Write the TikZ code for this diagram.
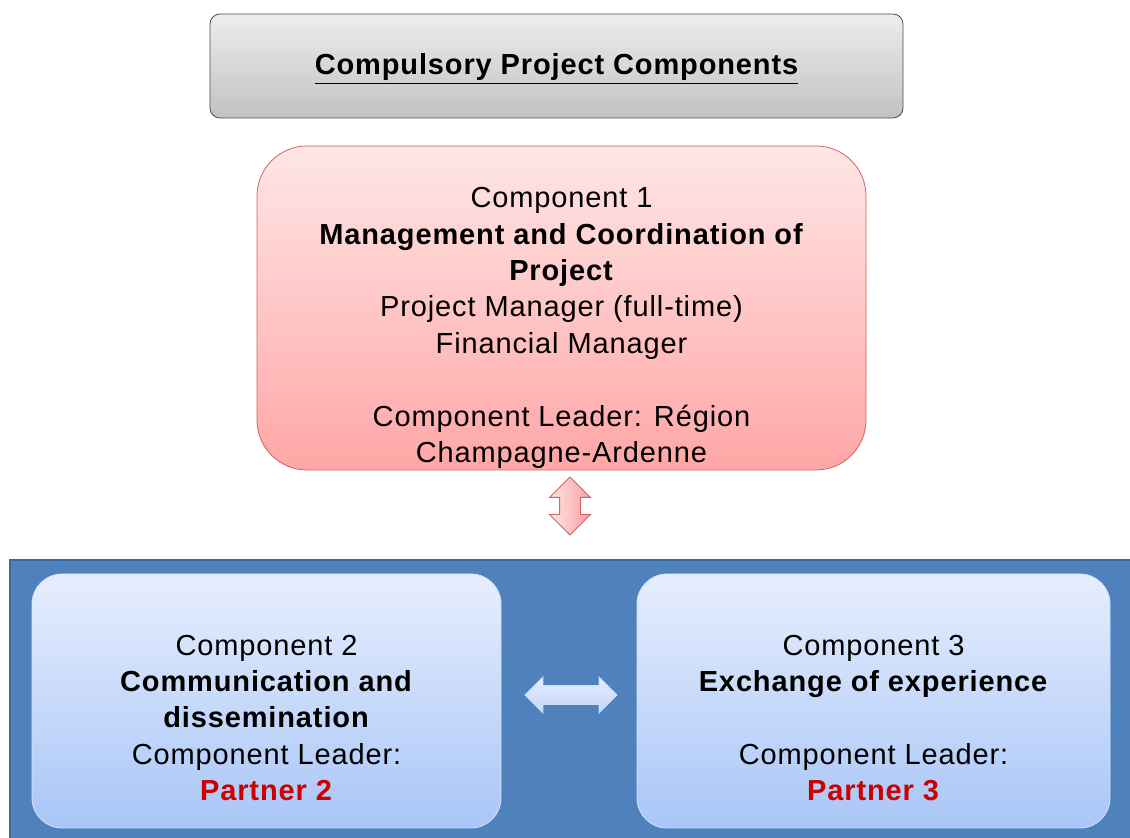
\documentclass[tikz,border=0pt]{standalone}
\usepackage{fontspec}
\setmainfont[LetterSpace=3]{Liberation Sans}
\usetikzlibrary{
  positioning,
  shapes.arrows,
}
\definecolor{panelblue}{HTML}{4F81BD}
\definecolor{panelline}{HTML}{3A6AA0}
\definecolor{redtop}{HTML}{FFE6E6}
\definecolor{redbottom}{HTML}{FFA6A6}
\definecolor{redline}{HTML}{D06262}
\definecolor{bluetop}{HTML}{E6EEFD}
\definecolor{bluebottom}{HTML}{A9C6F7}
\definecolor{partnerred}{HTML}{CC0000}
\tikzset{
  boxtext/.style={align=center, inner sep=0pt,
    font=\fontsize{14.5}{18.2}\selectfont},
  titlebox/.style={draw=black!70, rounded corners=5pt,
    top color=black!7, bottom color=black!24,
    minimum width=346.5pt, minimum height=52pt,
    font=\fontsize{14.5}{17}\selectfont\bfseries},
  redbox/.style={draw=redline, rounded corners=25pt,
    top color=redtop, bottom color=redbottom,
    minimum width=304.5pt, minimum height=162pt},
  bluebox/.style={draw=bluetop!70!bluebottom, rounded corners=15pt,
    top color=bluetop, bottom color=bluebottom,
    minimum height=127pt},
}

\begin{document}
\begin{tikzpicture}[x=0.5pt,y=-0.5pt]

        \useasboundingbox (0,0) rectangle (1130,838);

        % blue panel behind the two lower components
        \fill [panelblue] (10,560) rectangle (1130,838);
        \draw [panelline, line width=1pt] (10,838) -- (10,560) -- (1130,560);

        \node [titlebox, text depth=2pt] (title) at (556.5,66)
              {\underline{Compulsory Project Components}};

        \node [redbox] (comp1) at (561.5,308) {};
        \node [boxtext] (comp1text) at (561.5,328)
              {Component 1\\
               \textbf{Management and Coordination of}\\
               \textbf{Project}\\
               Project Manager (full-time)\\
               Financial Manager\\[18.2pt]
               Component Leader: Région\\
               Champagne-Ardenne};

        \node [bluebox, minimum width=234.5pt] (comp2) at (266.5,701) {};
        \node [boxtext] (comp2text) at (266.5,718)
              {Component 2\\
               \textbf{Communication and}\\
               \textbf{dissemination}\\
               Component Leader:\\
               {\color{partnerred}\textbf{Partner 2}}};

        \node [bluebox, minimum width=236.5pt] (comp3) at (873.5,701) {};
        \node [boxtext] (comp3text) at (873.5,718)
              {Component 3\\
               \textbf{Exchange of experience}\\[18.2pt]
               Component Leader:\\
               {\color{partnerred}\textbf{Partner 3}}};

        % double arrows between the components
        \node [double arrow, rotate=90, draw=redline, shading angle=90,
               left color=redtop, right color=redbottom!90!redline,
               minimum height=29pt, minimum width=20pt,
               inner xsep=0pt, inner ysep=5pt,
               double arrow head extend=5pt]
              (updown) at (570,506) {};

        \node [double arrow, draw=bluetop!60!bluebottom,
               top color=bluetop, bottom color=bluetop!40!bluebottom,
               minimum height=46pt, minimum width=17.5pt,
               inner xsep=0pt, inner ysep=4.5pt,
               double arrow head extend=4.25pt]
              (leftright) at (571,695) {};

\end{tikzpicture}
\end{document}
